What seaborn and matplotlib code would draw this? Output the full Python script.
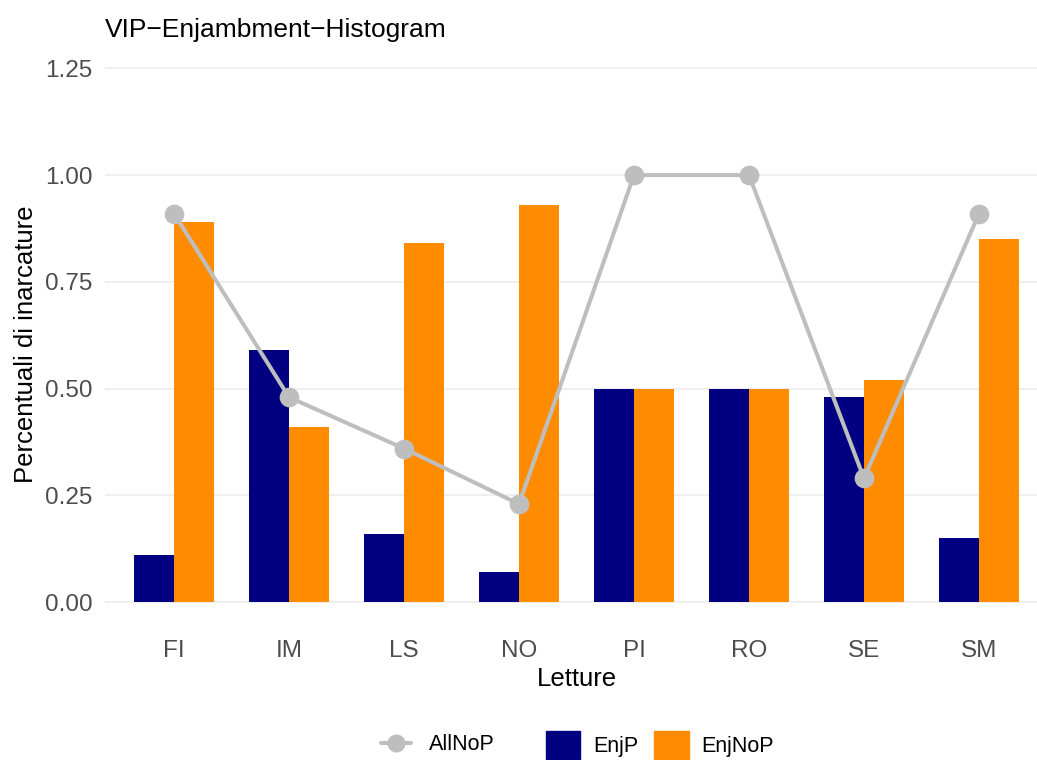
import matplotlib
matplotlib.use("Agg")
import matplotlib.pyplot as plt
from matplotlib.lines import Line2D
from matplotlib.patches import Patch
import seaborn as sns
import pandas as pd

categories = ["FI", "IM", "LS", "NO", "PI", "RO", "SE", "SM"]
enjp = [0.11, 0.59, 0.16, 0.07, 0.50, 0.50, 0.48, 0.15]
enjnop = [0.89, 0.41, 0.84, 0.93, 0.50, 0.50, 0.52, 0.85]
allnop = [0.91, 0.48, 0.36, 0.23, 1.00, 1.00, 0.29, 0.91]
y_ticks = [0.00, 0.25, 0.50, 0.75, 1.00, 1.25]

sns.set_theme(style="white")
plt.rcParams['font.family'] = ['Liberation Sans', 'DejaVu Sans']
plt.rcParams['text.color'] = 'black'

bars = pd.DataFrame({
    "Letture": categories * 2,
    "value": enjp + enjnop,
    "serie": ["EnjP"] * len(categories) + ["EnjNoP"] * len(categories),
})
line = pd.DataFrame({"Letture": categories, "value": allnop})

W, H = 1037, 760
fig = plt.figure(figsize=(W / 100, H / 100), dpi=100)
ax = fig.add_axes([105 / W, 1 - 629 / H, 943 / W, (629 - 41.6) / H])

palette = {"EnjP": "#000080", "EnjNoP": "#FF8C00"}
sns.barplot(data=bars, x="Letture", y="value", hue="serie", order=categories,
            hue_order=["EnjP", "EnjNoP"], palette=palette, width=0.7, gap=0,
            saturation=1, errorbar=None, ax=ax, legend=False, zorder=2,
            linewidth=0, edgecolor="none")
sns.pointplot(data=line, x="Letture", y="value", order=categories, color="#BEBEBE",
              errorbar=None, markers="o", ax=ax, linewidth=2.9, markersize=12,
              zorder=3)

ax.set_xlim(-0.6, 7.6)
ax.set_ylim(-0.0625, 1.3125)
ax.set_yticks(y_ticks)
ax.set_yticklabels([f"{v:.2f}" for v in y_ticks])
ax.grid(axis="y", color="#EBEBEB", linewidth=1.1, zorder=0)
ax.grid(axis="x", visible=False)
ax.set_axisbelow(True)
for s in ax.spines.values():
    s.set_visible(False)
ax.tick_params(axis="both", length=0, labelsize=17.5, labelcolor="#4D4D4D")
ax.tick_params(axis="y", pad=9)
ax.tick_params(axis="x", pad=8)

ax.set_xlabel("Letture", fontsize=18.5, color="black")
ax.set_ylabel("Percentuali di inarcature", fontsize=18.5, color="black")
ax.xaxis.set_label_coords(0.5, -0.0647)
ax.xaxis.label.set_va("top")
ax.yaxis.set_label_coords(-0.071, 0.485)

fig.text(105 / W, 1 - 37 / H, "VIP\u2212Enjambment\u2212Histogram", fontsize=19,
         color="black", ha="left", va="baseline")

h1 = [Line2D([0], [0], color="#BEBEBE", linewidth=2.9, marker="o", markersize=12)]
fig.legend(h1, ["AllNoP"], loc="center", bbox_to_anchor=(438 / W, 1 - 745 / H),
           frameon=False, fontsize=15.5, handlelength=1.4, handletextpad=0.85,
           borderpad=0, borderaxespad=0, labelcolor="black")
h2 = [Patch(color="#000080"), Patch(color="#FF8C00")]
fig.legend(h2, ["EnjP", "EnjNoP"], loc="center", bbox_to_anchor=(660 / W, 1 - 745 / H),
           ncol=2, frameon=False, fontsize=15.5, handlelength=1.6, handleheight=1.6,
           handletextpad=0.6, columnspacing=0.75, borderpad=0, borderaxespad=0,
           labelcolor="black")

fig.savefig("out.png", dpi=100)
